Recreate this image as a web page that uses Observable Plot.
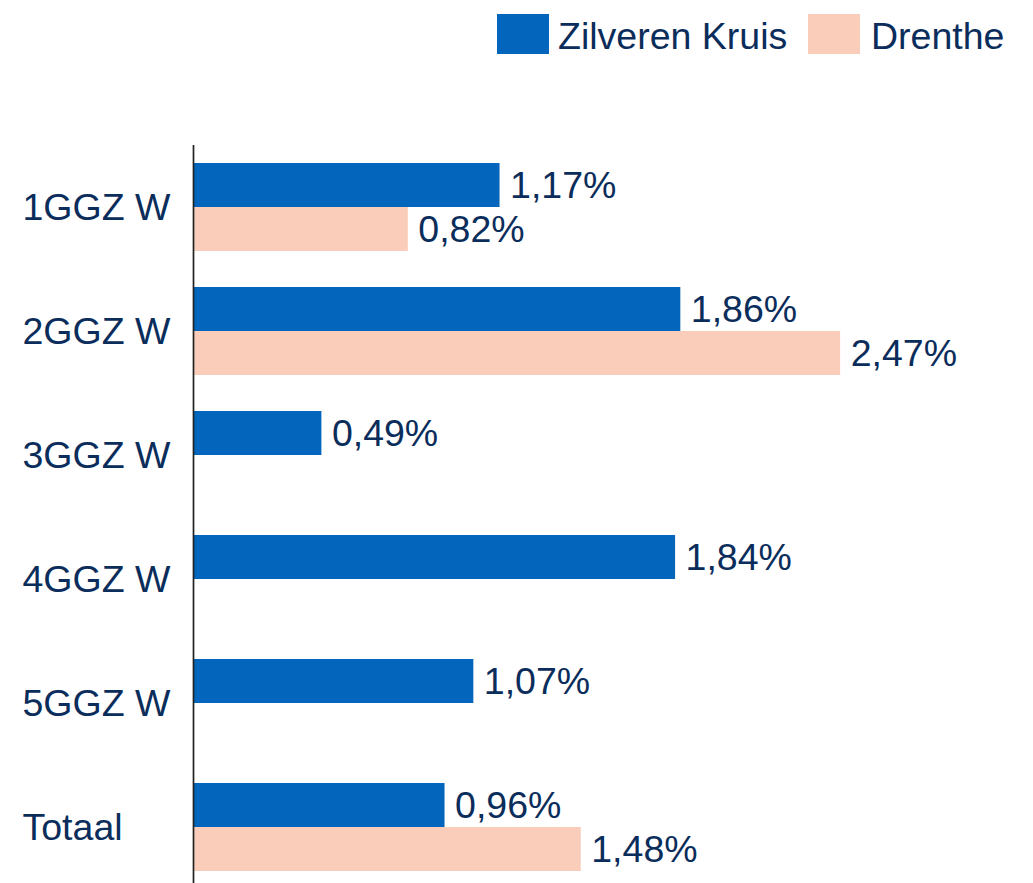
<!DOCTYPE html>
<html>
<head>
<meta charset="utf-8">
<script src="https://cdn.jsdelivr.net/npm/d3@7"></script>
<script src="https://cdn.jsdelivr.net/npm/@observablehq/plot@0.6"></script>
<style>
  html, body { margin: 0; padding: 0; background: #fff; overflow: hidden; }
  body { font-family: "Liberation Sans", Arial, sans-serif; }
  #legend { position: relative; width: 1033px; height: 70px; }
  .sw { position: absolute; top: 14px; width: 52px; height: 40px; }
  .lt { position: absolute; top: 16px; height: 40px; line-height: 40px; font-size: 37.5px; color: #0b2d5b; white-space: nowrap; }
  #chart svg { display: block; }
</style>
</head>
<body>
<div id="legend"></div>
<div id="chart"></div>
<script>
const categories = ["1GGZ W", "2GGZ W", "3GGZ W", "4GGZ W", "5GGZ W", "Totaal"];
const seriesNames = ["Zilveren Kruis", "Drenthe"];
const zilverenKruis = [1.17, 1.86, 0.49, 1.84, 1.07, 0.96];
const drenthe = [0.82, 2.47, null, null, null, 1.48];
const seriesColors = ["#0366bc", "#facdba"];

const navy = "#0b2d5b";
const rows = [];
categories.forEach((c, i) => {
  [zilverenKruis, drenthe].forEach((arr, s) => {
    if (arr[i] != null) rows.push({cat: c, series: seriesNames[s], value: arr[i]});
  });
});
const fmt = v => v.toFixed(2).replace(".", ",") + "%";

// Legend
const legend = document.getElementById("legend");
const legendPos = [{sw: 497, tx: 558}, {sw: 808, tx: 871}];
seriesNames.forEach((name, i) => {
  const sw = document.createElement("div");
  sw.className = "sw";
  sw.style.left = legendPos[i].sw + "px";
  sw.style.background = seriesColors[i];
  legend.appendChild(sw);
  const t = document.createElement("div");
  t.className = "lt";
  t.style.left = legendPos[i].tx + "px";
  t.textContent = name;
  legend.appendChild(t);
});

const chart = Plot.plot({
  width: 1033,
  height: 819,
  marginLeft: 193,
  marginRight: 54,
  marginTop: 75,
  marginBottom: 0,
  style: {fontFamily: "'Liberation Sans', Arial, sans-serif", background: "#fff"},
  x: {domain: [0, 3], axis: null},
  y: {domain: seriesNames, paddingInner: 0, paddingOuter: 0.39, axis: null},
  fy: {domain: categories, padding: 0, axis: null},
  color: {domain: seriesNames, range: seriesColors},
  marks: [
    Plot.barX(rows, {x: "value", y: "series", fy: "cat", fill: "series"}),
    Plot.text(rows, {x: "value", y: "series", fy: "cat", text: d => fmt(d.value), textAnchor: "start", dx: 10, fontSize: 37.5, fill: navy}),
    Plot.text(categories, {fy: d => d, text: d => d, frameAnchor: "left", textAnchor: "start", dx: -171, fontSize: 37.5, fill: navy}),
    Plot.ruleX([0], {stroke: "#222", strokeWidth: 1.7})
  ]
});
document.getElementById("chart").appendChild(chart);
</script>
</body>
</html>
